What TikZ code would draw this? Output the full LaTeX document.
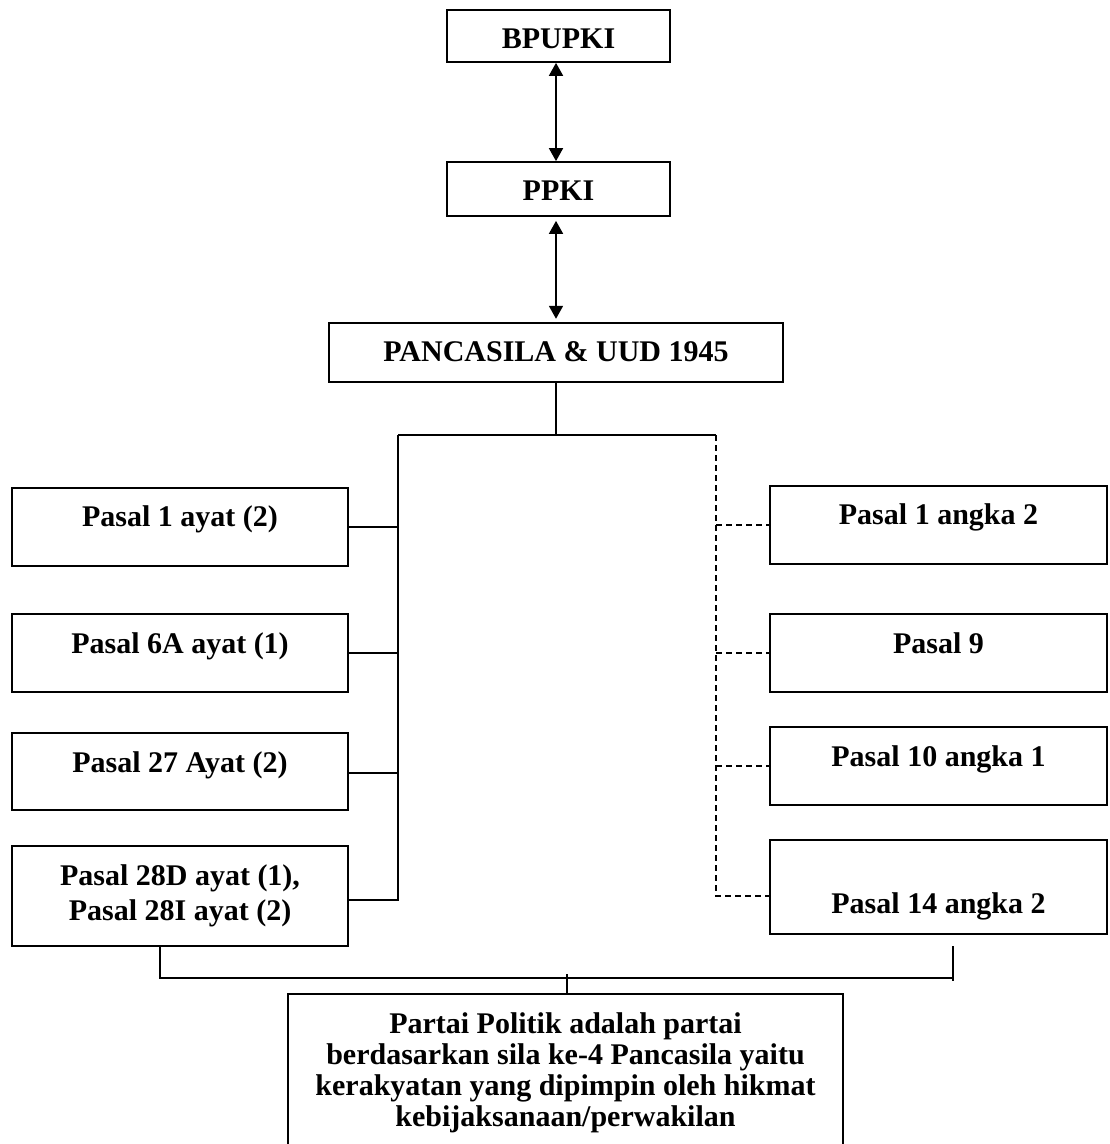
\documentclass[tikz,border=0pt]{standalone}
\usepackage{fontspec}
\setmainfont{Liberation Serif}
\usetikzlibrary{arrows.meta,fit}
\begin{document}
\begin{tikzpicture}[x=0.75pt,y=-0.75pt,line width=1.3pt,
  frame/.style={draw,inner sep=0pt},
  lbl/.style={anchor=base,inner sep=0pt,font=\fontsize{22.5pt}{26.25pt}\selectfont\bfseries},
  dlink/.style={dash pattern=on 4.5pt off 3pt},
  biarrow/.style={{Triangle[width=10.5pt,length=9.75pt]}-{Triangle[width=10.5pt,length=9.75pt]}}]
\useasboundingbox (0,0) rectangle (1109,1144);

% top chain
\node (bp) [frame,fit={(447,10) (670,62)}] {};
\node (bpt) [lbl] at (558.5,48.5) {BPUPKI};
\node (pp) [frame,fit={(447,162) (670,216)}] {};
\node (ppt) [lbl] at (558.5,201) {PPKI};
\node (pc) [frame,fit={(329,323) (783,382)}] {};
\node (pct) [lbl] at (556,362) {PANCASILA \& UUD 1945};

% left column
\node (l1) [frame,fit={(12,488) (348,566)}] {};
\node (l1t) [lbl] at (180,526) {Pasal 1 ayat (2)};
\node (l2) [frame,fit={(12,614) (348,692)}] {};
\node (l2t) [lbl] at (180,653) {Pasal 6A ayat (1)};
\node (l3) [frame,fit={(12,733) (348,810)}] {};
\node (l3t) [lbl] at (180,772) {Pasal 27 Ayat (2)};
\node (l4) [frame,fit={(12,846) (348,946)}] {};
\node (l4t) [lbl] at (180,885) {Pasal 28D ayat (1),};
\node (l4u) [lbl] at (180,920) {Pasal 28I ayat (2)};

% right column
\node (r1) [frame,fit={(770,486) (1107,564)}] {};
\node (r1t) [lbl] at (938.5,524) {Pasal 1 angka 2};
\node (r2) [frame,fit={(770,614) (1107,692)}] {};
\node (r2t) [lbl] at (938.5,653) {Pasal 9};
\node (r3) [frame,fit={(770,727) (1107,805)}] {};
\node (r3t) [lbl] at (938.5,766) {Pasal 10 angka 1};
\node (r4) [frame,fit={(770,840) (1107,934)}] {};
\node (r4t) [lbl] at (938.5,913) {Pasal 14 angka 2};

% conclusion
\node (bt) [frame,fit={(288,994) (843,1152)}] {};
\node (bt1) [lbl] at (565.5,1033) {Partai Politik adalah partai};
\node (bt2) [lbl] at (565.5,1064) {berdasarkan sila ke-4 Pancasila yaitu};
\node (bt3) [lbl] at (565.5,1095) {kerakyatan yang dipimpin oleh hikmat};
\node (bt4) [lbl] at (565.5,1126) {kebijaksanaan/perwakilan};

% junction points
\coordinate (ax) at (556,0);
\coordinate (jl) at (398,435);
\coordinate (jr) at (716,435);
\coordinate (jc) at (556,435);
\coordinate (l3y) at (0,773);
\coordinate (l4y) at (0,900);
\coordinate (r4y) at (0,896);
\coordinate (bl) at (160,978);
\coordinate (br) at (953,978);
\coordinate (brt) at (953,946);
\coordinate (brb) at (953,981);
\coordinate (tk) at (567,974);

% arrows between the top boxes
\draw[biarrow] (bp.south -| ax) -- (pp.north -| ax);
\draw[biarrow,shorten <=3pt,shorten >=2.5pt] (pp.south -| ax) -- (pc.north -| ax);

% branching
\draw (pc.south -| jc) -- (jc);
\draw (jl) -- (jr);
\draw (jl) |- (l4.east |- l4y);
\draw (l1.east) -- (l1.east -| jl);
\draw (l2.east) -- (l2.east -| jl);
\draw (l3.east |- l3y) -- (jl |- l3y);
\draw[dlink] (jr) |- (r4.west |- r4y);
\draw[dlink] (r1.west -| jr) -- (r1.west);
\draw[dlink] (r2.west -| jr) -- (r2.west);
\draw[dlink] (r3.west -| jr) -- (r3.west);

% bottom bracket
\draw (l4.south -| bl) -- (bl) -- (br);
\draw (brt) -- (brb);
\draw (bt.north -| tk) -- (tk);
\end{tikzpicture}
\end{document}
